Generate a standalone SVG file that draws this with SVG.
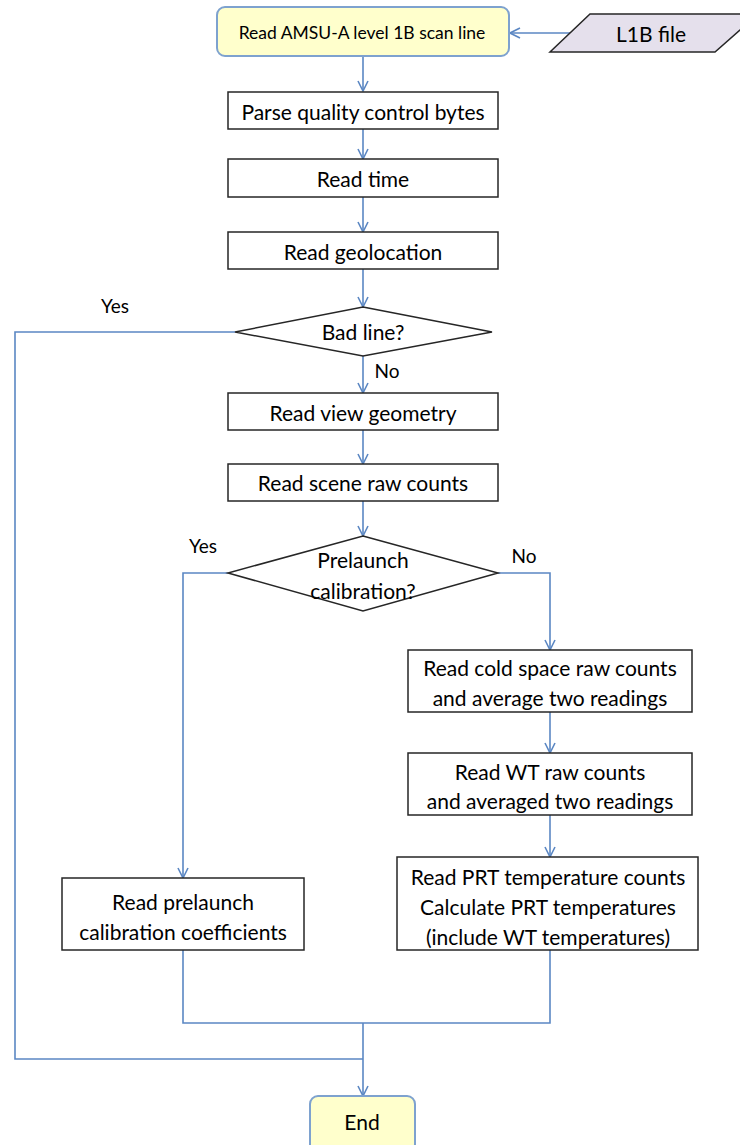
<svg xmlns="http://www.w3.org/2000/svg" width="740" height="1145" viewBox="0 0 740 1145">
  <style>
    .box { fill: #ffffff; stroke: #262626; stroke-width: 1.5; }
    .term { fill: #ffffcc; stroke: #7ea2cf; stroke-width: 2; }
    .data { fill: #e5e0ec; stroke: #262626; stroke-width: 1.5; }
    .dec { fill: #ffffff; stroke: #262626; stroke-width: 1.5; }
    .t { font-family: Lato, "Liberation Sans", sans-serif; font-size: 21px; fill: #000000; text-anchor: middle; dominant-baseline: central; }
    .ts { font-size: 17.5px; }
    .lbl { font-family: Lato, "Liberation Sans", sans-serif; font-size: 19px; fill: #000000; text-anchor: middle; dominant-baseline: central; }
    .conn { fill: none; stroke: #5b87c3; stroke-width: 1.6; }
  </style>
  <defs>
    <marker id="arrow" viewBox="0 0 12 12" refX="11" refY="6" markerWidth="12" markerHeight="12" markerUnits="userSpaceOnUse" orient="auto">
      <path d="M1,1 L11,6 L1,11" fill="none" stroke="#5b87c3" stroke-width="1.6"/>
    </marker>
  </defs>

  <g id="connectors">
    <path class="conn" d="M570,33 L510,33" marker-end="url(#arrow)"/>
    <path class="conn" d="M363,56 L363,91" marker-end="url(#arrow)"/>
    <path class="conn" d="M363,129 L363,159" marker-end="url(#arrow)"/>
    <path class="conn" d="M363,197 L363,232" marker-end="url(#arrow)"/>
    <path class="conn" d="M363,269 L363,307" marker-end="url(#arrow)"/>
    <path class="conn" d="M363,356 L363,393" marker-end="url(#arrow)"/>
    <path class="conn" d="M363,430 L363,464" marker-end="url(#arrow)"/>
    <path class="conn" d="M363,501 L363,536" marker-end="url(#arrow)"/>
    <path class="conn" d="M235,332 L15,332 L15,1059 L363,1059"/>
    <path class="conn" d="M228,573 L183,573 L183,878" marker-end="url(#arrow)"/>
    <path class="conn" d="M498,573 L550,573 L550,650" marker-end="url(#arrow)"/>
    <path class="conn" d="M550,712 L550,753" marker-end="url(#arrow)"/>
    <path class="conn" d="M550,815 L550,857" marker-end="url(#arrow)"/>
    <path class="conn" d="M183,950 L183,1023 L550,1023 L550,950"/>
    <path class="conn" d="M363,1023 L363,1096" marker-end="url(#arrow)"/>
    <text class="lbl" x="115" y="305">Yes</text>
    <text class="lbl" x="387" y="370">No</text>
    <text class="lbl" x="203" y="545">Yes</text>
    <text class="lbl" x="524" y="555">No</text>
  </g>

  <g id="n-start">
    <rect class="term" x="217" y="7" width="292" height="49" rx="8"/>
    <text class="t ts" x="362" y="32">Read AMSU-A level 1B scan line</text>
  </g>
  <g id="n-l1b">
    <polygon class="data" points="590,14 758,14 715,52 550,52"/>
    <text class="t" x="651" y="33">L1B file</text>
  </g>
  <g id="n-qc">
    <rect class="box" x="228" y="92" width="270" height="37"/>
    <text class="t" x="363" y="111">Parse quality control bytes</text>
  </g>
  <g id="n-time">
    <rect class="box" x="228" y="159" width="270" height="38"/>
    <text class="t" x="363" y="178">Read time</text>
  </g>
  <g id="n-geo">
    <rect class="box" x="228" y="232" width="270" height="37"/>
    <text class="t" x="363" y="251">Read geolocation</text>
  </g>
  <g id="n-bad">
    <polygon class="dec" points="363,307 492,332 363,356 235,332"/>
    <text class="t" x="363" y="331">Bad line?</text>
  </g>
  <g id="n-view">
    <rect class="box" x="228" y="393" width="270" height="37"/>
    <text class="t" x="363" y="412">Read view geometry</text>
  </g>
  <g id="n-scene">
    <rect class="box" x="228" y="464" width="270" height="37"/>
    <text class="t" x="363" y="482">Read scene raw counts</text>
  </g>
  <g id="n-prelaunch">
    <polygon class="dec" points="363,536 498,573 363,611 228,573"/>
    <text class="t" x="363" y="559">Prelaunch</text>
    <text class="t" x="363" y="590">calibration?</text>
  </g>
  <g id="n-cold">
    <rect class="box" x="408" y="650" width="284" height="62"/>
    <text class="t" x="550" y="667">Read cold space raw counts</text>
    <text class="t" x="550" y="697">and average two readings</text>
  </g>
  <g id="n-wt">
    <rect class="box" x="408" y="753" width="284" height="62"/>
    <text class="t" x="550" y="771">Read WT raw counts</text>
    <text class="t" x="550" y="800">and averaged two readings</text>
  </g>
  <g id="n-prt">
    <rect class="box" x="397" y="857" width="301" height="93"/>
    <text class="t" x="548" y="876">Read PRT temperature counts</text>
    <text class="t" x="548" y="906">Calculate PRT temperatures</text>
    <text class="t" x="548" y="936">(include WT temperatures)</text>
  </g>
  <g id="n-coef">
    <rect class="box" x="62" y="878" width="242" height="72"/>
    <text class="t" x="183" y="901">Read prelaunch</text>
    <text class="t" x="183" y="931">calibration coefficients</text>
  </g>
  <g id="n-end">
    <rect class="term" x="310" y="1096" width="105" height="56" rx="8"/>
    <text class="t" x="362" y="1121">End</text>
  </g>
</svg>
